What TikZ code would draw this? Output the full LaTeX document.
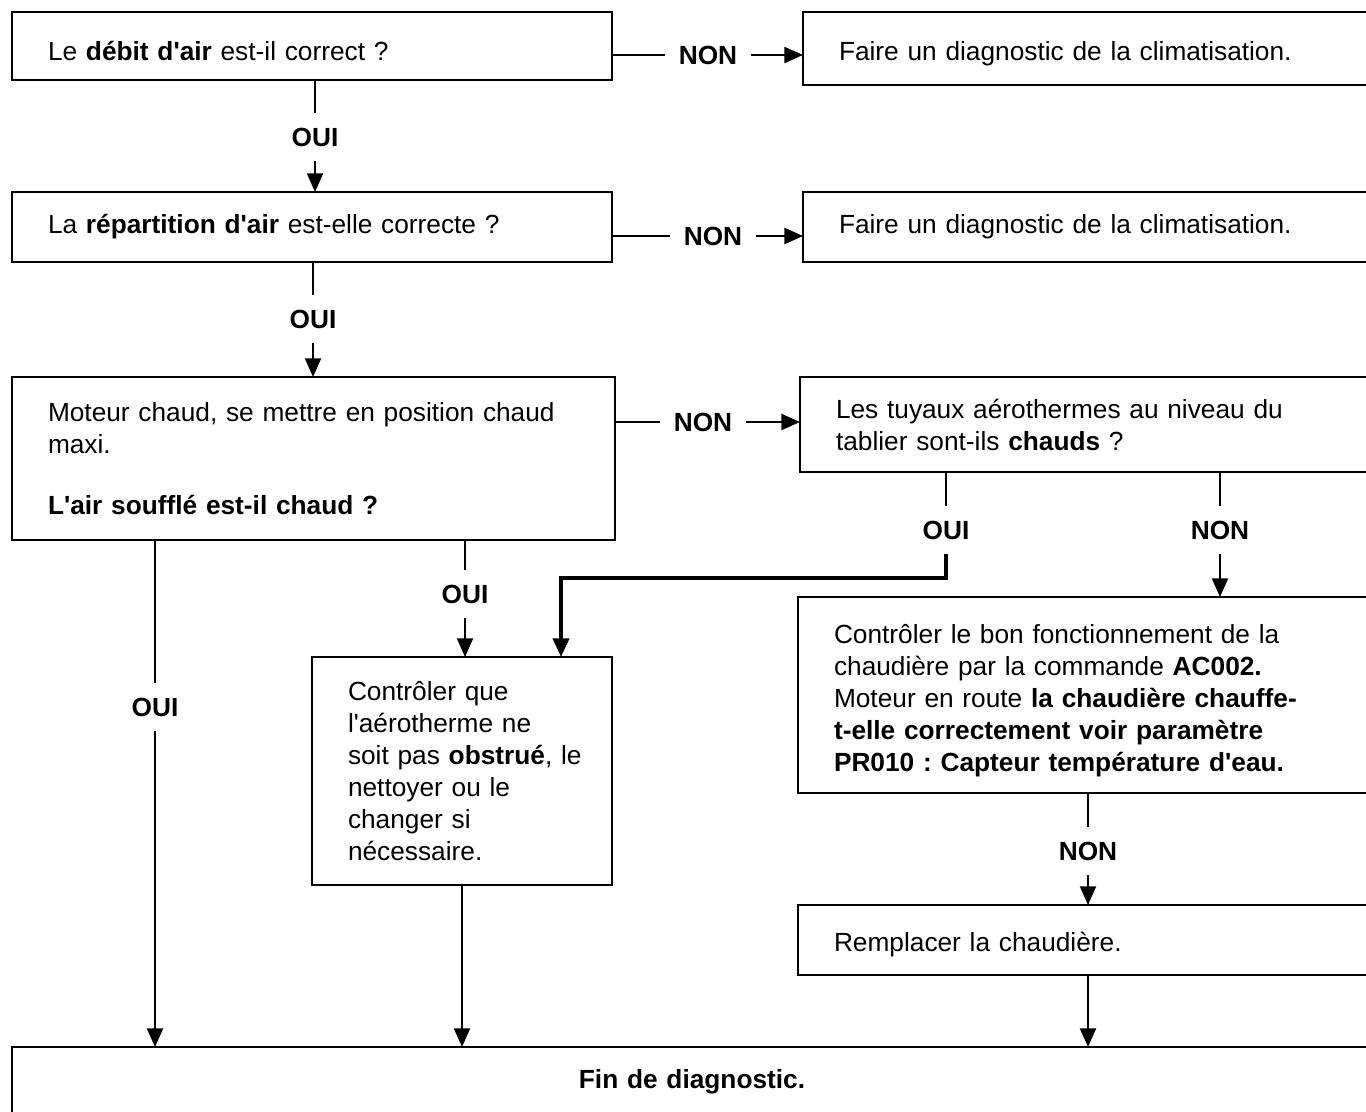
\documentclass[tikz,border=0pt]{standalone}
\usepackage{fontspec}
\setmainfont{Liberation Sans}[Ligatures=TeXOff]
\usetikzlibrary{arrows.meta,positioning}
\newcommand{\px}{0.75pt}
\newcommand{\police}{\fontsize{19.7}{24}\selectfont}
\tikzset{
  etape/.style={draw,line width=2.2pt,anchor=north west,outer sep=0pt,
    inner xsep=27pt,inner ysep=0pt,align=left,font=\police},
  taille/.style 2 args={minimum width=#1*\px,minimum height=#2*\px,
    text width=#1*\px-54pt},
  reponse/.style={font=\police\bfseries,inner xsep=10pt,inner ysep=11pt},
  trait/.style={line width=1.5pt},
  fleche/.style={trait,-{Triangle[width=12pt,length=14pt]}},
}
\frenchspacing
\begin{document}
\begin{tikzpicture}[x=\px,y=-\px]
  \clip (0,0) rectangle (1366,1112);

  % questions
  \node[etape,taille={600}{68},text height=22pt] (debit) at (12,12)
    {Le \textbf{débit d'air} est-il correct ?};
  \node[etape,taille={580}{73},text height=22pt] (clim1) at (803,12)
    {Faire un diagnostic de la climatisation.};
  \node[etape,taille={600}{70}] (repart) at (12,192)
    {La \textbf{répartition d'air} est-elle correcte ?};
  \node[etape,taille={580}{70}] (clim2) at (803,192)
    {Faire un diagnostic de la climatisation.};
  \node[etape,taille={603}{163}] (moteur) at (12,377)
    {Moteur chaud, se mettre en position chaud\\
     maxi.\\[22pt]
     \textbf{L'air soufflé est-il chaud ?}};
  \node[etape,taille={580}{95}] (tuyaux) at (800,377)
    {Les tuyaux aérothermes au niveau du\\
     tablier sont-ils \textbf{chauds} ?};

  % actions
  \node[etape,taille={300}{228}] (aero) at (312,657)
    {Contrôler que\\
     l'aérotherme ne\\
     \mbox{soit pas \textbf{obstrué}, le}\\
     nettoyer ou le\\
     changer si\\
     nécessaire.};
  \node[etape,taille={580}{196},text height=23.5pt] (commande) at (798,597)
    {Contrôler le bon fonctionnement de la\\
     chaudière par la commande \textbf{AC002.}\\
     Moteur en route \textbf{la chaudière chauffe-}\\
     \textbf{t-elle correctement voir paramètre}\\
     \textbf{PR010 : Capteur température d'eau.}};
  \node[etape,taille={580}{70},text height=21pt] (chaud) at (798,905)
    {Remplacer la chaudière.};
  \node[etape,taille={1360}{70},align=center] (fin) at (12,1047)
    {\textbf{Fin de diagnostic.}};

  % reponses
  \node[reponse] (non1) at (708,55) {NON};
  \node[reponse] (oui1) at (315,137) {OUI};
  \node[reponse] (non2) at (713,236) {NON};
  \node[reponse] (oui2) at (313,319) {OUI};
  \node[reponse] (non3) at (703,422) {NON};
  \node[reponse] (oui3) at (155,707) {OUI};
  \node[reponse] (oui4) at (465,594) {OUI};
  \node[reponse] (oui5) at (946,530) {OUI};
  \node[reponse] (non4) at (1220,530) {NON};
  \node[reponse] (non5) at (1088,851) {NON};
  \coordinate (coude) at (561,578);

  % liaisons
  \draw[trait] (non1 -| debit.east) -- (non1.west);
  \draw[fleche] (non1.east) -- (non1 -| clim1.west);
  \draw[trait] (debit.south -| oui1) -- (oui1.north);
  \draw[fleche] (oui1.south) -- (repart.north -| oui1);

  \draw[trait] (non2 -| repart.east) -- (non2.west);
  \draw[fleche] (non2.east) -- (non2 -| clim2.west);
  \draw[trait] (repart.south -| oui2) -- (oui2.north);
  \draw[fleche] (oui2.south) -- (moteur.north -| oui2);

  \draw[trait] (non3 -| moteur.east) -- (non3.west);
  \draw[fleche] (non3.east) -- (non3 -| tuyaux.west);
  \draw[trait] (moteur.south -| oui3) -- (oui3.north);
  \draw[fleche] (oui3.south) -- (fin.north -| oui3);
  \draw[trait] (moteur.south -| oui4) -- (oui4.north);
  \draw[fleche] (oui4.south) -- (aero.north -| oui4);

  \draw[trait] (tuyaux.south -| oui5) -- (oui5.north);
  \draw[fleche,line width=3pt] (oui5.south) |- (coude) -- (coude |- aero.north);
  \draw[trait] (tuyaux.south -| non4) -- (non4.north);
  \draw[fleche] (non4.south) -- (commande.north -| non4);

  \draw[fleche] (aero.south) -- (fin.north -| aero.south);
  \draw[trait] (commande.south -| non5) -- (non5.north);
  \draw[fleche] (non5.south) -- (chaud.north -| non5);
  \draw[fleche] (chaud.south -| non5) -- (fin.north -| non5);
\end{tikzpicture}
\end{document}
